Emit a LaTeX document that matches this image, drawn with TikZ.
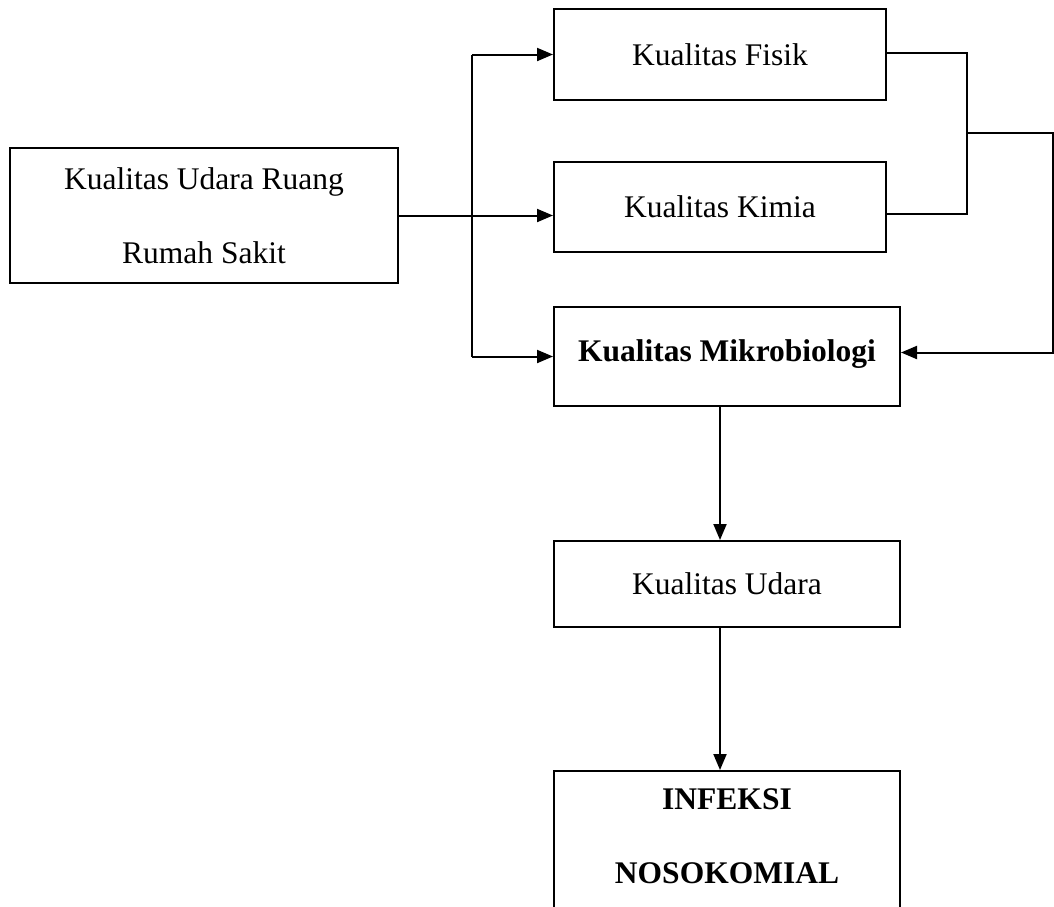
\documentclass[tikz,border=0pt]{standalone}
\usepackage{fontspec}
\setmainfont{Liberation Serif}
\usetikzlibrary{arrows.meta,calc}
\begin{document}
\begin{tikzpicture}[x=1pt,y=-1pt,
  box/.style={draw,line width=2pt,inner sep=0pt,align=center,
    font=\fontsize{31.5pt}{74pt}\selectfont},
  conn/.style={line width=2pt},
  arr/.style={conn,-{Triangle[length=16pt,width=13pt]}}]
\useasboundingbox (0,0) rectangle (1054,906);
\clip (0,0) rectangle (1054,906);
\node[box,minimum width=388,minimum height=135] (src) at (204,215.5) {Kualitas Udara Ruang\\Rumah Sakit};
\node[box,minimum width=332,minimum height=91] (fisik) at (720,54.5) {Kualitas Fisik};
\node[box,minimum width=332,minimum height=90] (kimia) at (720,207) {Kualitas Kimia};
\node[box,minimum width=346,minimum height=99,text depth=12pt] (mikro) at (727,356.5) {\bfseries Kualitas Mikrobiologi};
\node[box,minimum width=346,minimum height=86] (udara) at (727,584) {Kualitas Udara};
\node[box,minimum width=346,minimum height=170] (inf) at (727,856) {};
\node[align=center,inner sep=0pt,font=\fontsize{31.5pt}{74pt}\selectfont\bfseries] (inftext) at (727,836) {INFEKSI\\NOSOKOMIAL};
\coordinate (bus) at (472,0);
\coordinate (jx) at (967,0);
\coordinate (rx) at (1053,0);
\coordinate (vx) at (720,0);
\coordinate (fout) at ($(fisik.east)+(0,-2)$);
\coordinate (kout) at ($(kimia.east)+(0,7)$);
\coordinate (min) at ($(mikro.east)+(0,-4)$);
% left side
\draw[arr] (src.east) -- (src.east -| kimia.west);
\draw[conn] (bus |- fisik.west) -- (bus |- mikro.west);
\draw[arr] (bus |- fisik.west) -- (fisik.west);
\draw[arr] (bus |- mikro.west) -- (mikro.west);
% right side
\draw[conn] (fout) -| (jx |- kout) -- (kout);
\coordinate (j) at ($(jx |- fout)!0.5!(jx |- kout)$);
\draw[arr] (j) -| (rx |- min) -- (min);
% vertical chain
\draw[arr] (mikro.south -| vx) -- (udara.north -| vx);
\draw[arr] (udara.south -| vx) -- (inf.north -| vx);
\end{tikzpicture}
\end{document}
